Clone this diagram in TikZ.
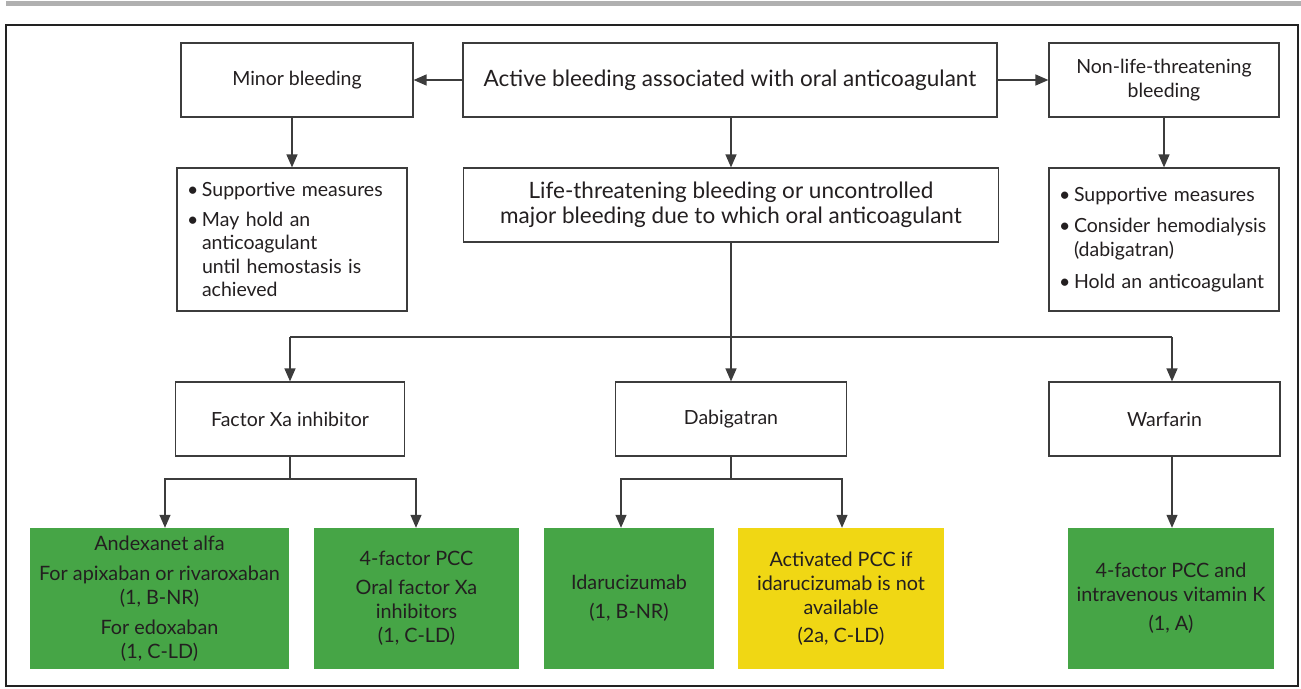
\documentclass[tikz,border=0pt]{standalone}
\usepackage{fontspec}
\setmainfont{Lato}
\usetikzlibrary{arrows.meta}
\definecolor{gbox}{HTML}{46A546}
\definecolor{ybox}{HTML}{F0D714}
\definecolor{ink}{HTML}{231F20}
\definecolor{edge}{HTML}{3C3C3C}
\definecolor{bar}{HTML}{B0B0B0}
\definecolor{frame}{HTML}{222222}
\newcommand{\bul}{\makebox[15pt][l]{\textbullet}}
\newcommand{\ind}{\hspace*{15pt}}
\begin{document}
\begin{tikzpicture}[x=1pt,y=-1pt,
  box/.style={draw=edge, line width=1.2pt, fill=white, text=ink, inner sep=0pt, align=center, minimum height=74pt,
              font=\fontsize{19.5}{23.5}\selectfont},
  bigbox/.style={box, font=\fontsize{22.5}{24.5}\selectfont},
  listbox/.style={box, align=left, inner xsep=10pt, minimum height=143pt},
  colbox/.style={text=ink, inner sep=0pt, align=center, minimum height=141pt,
              font=\fontsize{19.8}{24}\selectfont},
  green/.style={colbox, fill=gbox},
  yellow/.style={colbox, fill=ybox},
  conn/.style={draw=edge, line width=1.3pt},
  arr/.style={conn, -{Triangle[length=13pt,width=11pt]}}]
\useasboundingbox (0,0) rectangle (1301,688);
\fill[bar] (6,1) rectangle (1301,6);
\draw[frame, line width=2.5pt] (6,25) rectangle (1298,686);

% top row
\node[box, minimum width=232pt] (minor) at (297,80) {Minor bleeding};
\node[bigbox, minimum width=534pt] (active) at (730,80) {Active bleeding associated with oral anticoagulant};
\node[box, minimum width=230pt] (nonlife) at (1164,80) {Non-life-threatening\\bleeding};

% second row
\node[listbox, text width=210pt] (supL) at (292,239.5) {\bul Supportive measures\\[6pt]\bul May hold an\\\ind anticoagulant\\\ind until hemostasis is\\\ind achieved};
\node[bigbox, minimum width=535pt] (life) at (731,205) {Life-threatening bleeding or uncontrolled\\major bleeding due to which oral anticoagulant};
\node[listbox, text width=210pt, font=\fontsize{19.5}{24}\selectfont] (supR) at (1164,239.5) {\bul Supportive measures\\[7.5pt]\bul Consider hemodialysis\\\ind (dabigatran)\\[7.5pt]\bul Hold an anticoagulant};

% third row
\node[box, minimum width=229pt] (fxa) at (290,419) {Factor Xa inhibitor};
\node[box, minimum width=231pt] (dabi) at (731,419) {Dabigatran};
\node[box, minimum width=231pt] (warf) at (1164.5,419) {Warfarin};

% bottom row
\node[green, minimum width=259pt] (andex) at (159.5,598.5) {Andexanet alfa\\[6pt]For apixaban or rivaroxaban\\(1, B-NR)\\[6pt]For edoxaban\\(1, C-LD)};
\node[green, minimum width=205pt] (fpcc) at (416.5,598.5) {4-factor PCC\\[5pt]Oral factor Xa\\inhibitors\\(1, C-LD)};
\node[green, minimum width=170pt] (idar) at (629,598.5) {Idarucizumab\\[5pt](1, B-NR)};
\node[yellow, minimum width=206pt] (apcc) at (841,598.5) {Activated PCC if\\idarucizumab is not\\available\\[4pt](2a, C-LD)};
\node[green, minimum width=206pt] (wpcc) at (1171,598.5) {4-factor PCC and\\intravenous vitamin K\\[5pt](1, A)};

% helper coordinates
\coordinate (hy) at (731,337);
\coordinate (wcol) at (1172,337);
\coordinate (al) at (165,479);
\coordinate (ar) at (416,479);
\coordinate (bl) at (621,479);
\coordinate (br) at (842,479);

% connectors
\draw[arr] (active.west) -- (minor.east);
\draw[arr] (active.east) -- (nonlife.west);
\draw[arr] (active.south -| life.north) -- (life.north);
\draw[arr] (minor.south -| supL.north) -- (supL.north);
\draw[arr] (nonlife.south) -- (supR.north);

\draw[conn] (life.south) -- (hy);
\draw[conn] (fxa.north |- hy) -- (wcol);
\draw[arr] (fxa.north |- hy) -- (fxa.north);
\draw[arr] (hy) -- (dabi.north);
\draw[arr] (wcol) -- (wcol |- warf.north);

\draw[arr] (fxa.south) -- (fxa.south |- al) -- (al) -- (al |- andex.north);
\draw[arr] (fxa.south |- ar) -- (ar) -- (ar |- fpcc.north);
\draw[arr] (dabi.south) -- (dabi.south |- bl) -- (bl) -- (bl |- idar.north);
\draw[arr] (dabi.south |- br) -- (br) -- (br |- apcc.north);
\draw[arr] (wcol |- warf.south) -- (wcol |- wpcc.north);
\end{tikzpicture}
\end{document}
